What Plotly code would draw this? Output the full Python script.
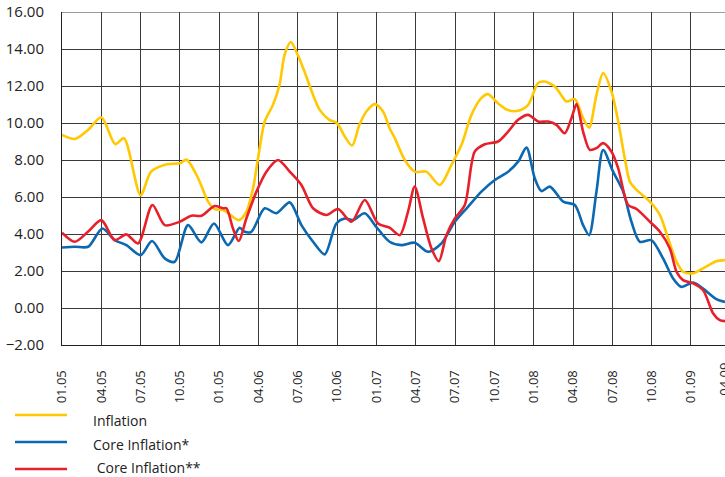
import plotly.graph_objects as go

# Month index: 0 = Jan 2005 (01.05)
tick_months = [0, 3, 6, 9, 12, 15, 18, 21, 24, 27, 30, 33, 36, 39, 42, 45, 48, 51]
tick_labels = ["01.05", "04.05", "07.05", "10.05", "01.05", "04.06", "07.06", "10.06",
               "01.07", "04.07", "07.07", "10.07", "01.08", "04.08", "07.08", "10.08",
               "01.09", "04.09"]

series_names = ["Inflation", "Core Inflation*", " Core Inflation**"]
series_colors = ["#FFC800", "#0C68B1", "#E8202A"]

infl_x = [0, 1.0, 2.0, 3.0, 4.07, 4.73, 6.0, 6.8, 8.0, 9.0, 9.5, 10.4, 11.15, 11.65, 12.3,
          12.55, 13.49, 14.07, 14.58, 15.04, 15.47, 16.1, 16.6, 16.99, 17.46, 17.99, 18.5,
          19.16, 19.67, 20.4, 20.99, 21.58, 22.14, 22.7, 23.23, 23.87, 24.5, 25.0,
          25.4, 26.16, 26.92, 27.8, 28.83, 29.72, 30.49, 31.25, 32.0, 32.5, 33.27, 34.0,
          34.81, 35.57, 36.34, 36.85, 37.61, 38.0, 38.5, 39.14, 39.77, 40.23, 40.79, 41.3,
          41.94, 42.45, 42.95, 43.34, 43.85, 44.87, 45.63, 46.26, 46.9, 47.4, 48.17, 48.93,
          49.94, 50.6]
infl_y = [9.36, 9.14, 9.63, 10.31, 8.85, 9.18, 6.1, 7.37, 7.77, 7.82, 8.02, 7.0, 5.75, 5.35, 5.3,
          5.2, 4.75, 5.2, 6.47, 8.45, 10.08, 10.98, 12.06, 13.69, 14.38, 13.69, 12.79,
          11.52, 10.71, 10.17, 9.99, 9.27, 8.78, 9.9, 10.62, 11.02, 10.62, 9.72,
          9.18, 8.0, 7.37, 7.37, 6.65, 7.73, 8.82, 10.44, 11.34, 11.56, 11.07, 10.71,
          10.66, 10.98, 12.16, 12.24, 11.97, 11.61, 11.16, 11.29, 10.26, 9.75, 11.52, 12.7,
          11.7, 10.08, 8.09, 6.83, 6.38, 5.75, 5.03, 3.76, 2.5, 1.96, 1.87, 2.14,
          2.53, 2.59]

core1_x = [0, 1.0, 2.0, 3.08, 4.02, 4.91, 6.0, 6.87, 7.84, 8.6, 9.62, 10.64, 11.6, 12.67,
           13.56, 13.94, 14.45, 15.47, 16.36, 17.38, 18.27, 19.16, 20.05, 20.94, 21.58, 22.2,
           23.1, 23.98, 25.0, 25.9, 26.92, 27.94, 28.96, 29.98, 31.0, 32.01, 33.03, 34.05,
           34.81, 35.45, 36.08, 36.59, 37.23, 38.25, 39.14, 39.77, 40.23, 40.79, 41.3, 42.06,
           42.83, 43.46, 44.1, 44.98, 45.87, 46.64, 47.28, 48.17, 48.93, 49.94, 50.6]
core1_y = [3.27, 3.31, 3.31, 4.3, 3.67, 3.4, 2.86, 3.62, 2.68, 2.5, 4.48, 3.55, 4.57, 3.4,
           4.34, 4.12, 4.12, 5.39, 5.12, 5.71, 4.48, 3.58, 2.9, 4.57, 4.84, 4.75,
           5.12, 4.39, 3.58, 3.4, 3.53, 3.04, 3.49, 4.66, 5.48, 6.29, 6.92, 7.37,
           7.91, 8.67, 7.01, 6.32, 6.56, 5.75, 5.57, 4.48, 3.94, 6.29, 8.54, 7.37,
           6.29, 4.66, 3.58, 3.67, 2.68, 1.6, 1.14, 1.38, 1.05, 0.48, 0.33]

core2_x = [0, 0.97, 1.98, 3.0, 4.02, 4.91, 5.8, 6.9, 7.84, 8.98, 9.87, 10.64, 11.65, 12.29,
           12.55, 13.05, 13.49, 14.07, 14.84, 15.6, 16.49, 17.38, 18.27, 19.16, 20.18, 21.07,
           22.09, 23.11, 24.12, 25.0, 25.78, 26.41, 26.92, 27.56, 28.2, 28.76, 29.34, 29.98,
           30.74, 31.5, 32.27, 33.28, 34.05, 34.81, 35.57, 36.34, 37.1, 37.74, 38.37, 38.88,
           39.27, 39.77, 40.28, 40.79, 41.3, 41.94, 42.45, 43.21, 43.85, 44.87, 45.63, 46.39,
           46.9, 47.4, 48.17, 48.93, 49.7, 50.2, 50.6]
core2_y = [4.07, 3.58, 4.12, 4.75, 3.67, 3.98, 3.49, 5.57, 4.48, 4.66, 4.99, 4.99, 5.51, 5.39,
           5.39, 4.3, 3.62, 4.84, 6.29, 7.37, 8.0, 7.37, 6.65, 5.39, 5.03, 5.35,
           4.66, 5.84, 4.57, 4.34, 3.94, 5.21, 6.56, 4.84, 3.22, 2.53, 3.94, 4.84,
           5.57, 8.45, 8.85, 9.0, 9.54, 10.17, 10.44, 10.08, 10.08, 9.9, 9.45, 10.26,
           11.02, 9.54, 8.55, 8.64, 8.91, 8.45, 7.55, 5.57, 5.35, 4.66, 4.12, 3.22,
           1.96, 1.51, 1.33, 0.96, -0.3, -0.66, -0.71]

xs = [infl_x, core1_x, core2_x]
ys = [infl_y, core1_y, core2_y]

FONT = "Open Sans, Noto Sans, sans-serif"
W, H = 725, 477
ML, MR, MT, MB = 62, 0, 12, 132
X_RANGE = [0, 50.6]
Y_RANGE = [-2, 16]

fig = go.Figure()
for name, color, x, y in zip(series_names, series_colors, xs, ys):
    fig.add_trace(go.Scatter(x=x, y=y, mode="lines", name=name,
                             line=dict(color=color, width=2.6, shape="spline", smoothing=0.8),
                             showlegend=False, hoverinfo="skip"))

grid_col = "#3a3a3a"
fig.update_layout(
    width=W, height=H,
    margin=dict(l=ML, r=MR, t=MT, b=MB, pad=0, autoexpand=False),
    paper_bgcolor="white", plot_bgcolor="white",
    font=dict(family=FONT, color="#222"),
    xaxis=dict(range=X_RANGE, tickmode="array", tickvals=tick_months[:-1],
               ticktext=tick_labels[:-1], tickangle=-90, showgrid=True,
               gridcolor=grid_col, gridwidth=1, showline=True, linecolor="#222",
               linewidth=1, ticks="", zeroline=False, ticklabelstandoff=19,
               automargin=False,
               tickfont=dict(size=13, family=FONT, color="#222"), fixedrange=True),
    yaxis=dict(range=Y_RANGE, tickmode="linear", tick0=-2, dtick=2, tickformat=".2f",
               showgrid=True, gridcolor=grid_col, gridwidth=1, showline=True,
               linecolor="#222", linewidth=1, ticks="", zeroline=False,
               ticklabelstandoff=14, automargin=False,
               tickfont=dict(size=15, family=FONT, color="#222"),
               fixedrange=True),
)

# top border line at the 16.00 level
fig.add_shape(type="line", xref="paper", yref="y", x0=0, x1=1, y0=Y_RANGE[1], y1=Y_RANGE[1],
              line=dict(color=grid_col, width=1))

# last (cut-off) tick label beyond the visible range
fig.add_annotation(xref="paper", yref="paper",
                   x=(tick_months[-1] - X_RANGE[0]) / (X_RANGE[1] - X_RANGE[0]), y=0,
                   text=tick_labels[-1], textangle=-90, showarrow=False,
                   xanchor="center", yanchor="top", yshift=-16, xshift=-7,
                   font=dict(size=13, family=FONT, color="#222"))

# manual legend below the chart
plot_w = W - ML - MR
plot_h = H - MT - MB

def px_x(p):
    return (p - ML) / plot_w

def px_y(p):
    return (H - MB - p) / plot_h

legend_rows = [415, 442, 469]
text_rows = [420, 444, 467]
text_x = [91, 91, 91]
for name, color, yy, ty, tx in zip(series_names, series_colors, legend_rows, text_rows, text_x):
    fig.add_shape(type="line", xref="paper", yref="paper", x0=px_x(15), x1=px_x(67),
                  y0=px_y(yy), y1=px_y(yy), line=dict(color=color, width=2.6))
    fig.add_annotation(xref="paper", yref="paper", x=px_x(tx), y=px_y(ty),
                       text=name.replace(" ", "&nbsp;", 1) if name.startswith(" ") else name,
                       showarrow=False, xanchor="left", yanchor="middle",
                       font=dict(size=14, family=FONT, color="#222"))

fig.write_html("out.html", config={"displayModeBar": False, "staticPlot": True},
               post_script="document.body.style.margin='0';document.body.style.overflow='hidden';")
